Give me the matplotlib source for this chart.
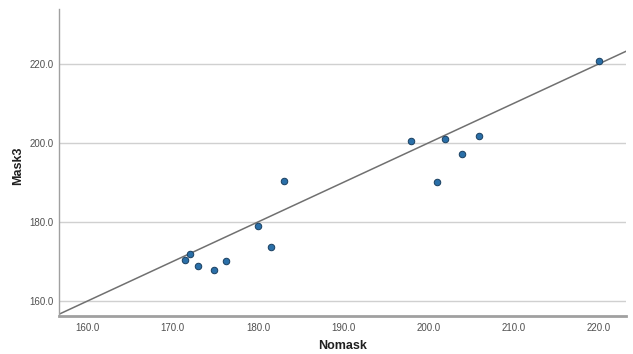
import matplotlib
matplotlib.use("Agg")
import matplotlib.pyplot as plt
import numpy as np

plt.rcParams["font.family"] = ["Liberation Sans", "DejaVu Sans"]

nomask = [171.4, 172.0, 173.0, 174.8, 176.3, 180.0, 181.5, 183.0,
          198.0, 201.0, 202.0, 204.0, 206.0, 220.0]
mask3 = [170.5, 171.9, 168.9, 167.9, 170.0, 179.0, 173.7, 190.4,
         200.6, 190.0, 201.1, 197.1, 201.8, 220.8]
x_ticks = [160.0, 170.0, 180.0, 190.0, 200.0, 210.0, 220.0]
y_ticks = [160.0, 180.0, 200.0, 220.0]

fig = plt.figure(figsize=(6.33, 3.54), dpi=100)
ax = fig.add_axes([0.0932, 0.1073, 0.8958, 0.8673])
ax.set_xlim(156.65, 223.2)
ax.set_ylim(156.2, 233.9)

ax.axline((160, 160), slope=1, color="#707070", lw=1.1, zorder=2)
ax.scatter(nomask, mask3, s=22, color="#2a6fa8", edgecolors="#1a3f60",
           linewidths=0.7, zorder=3)

ax.set_xticks(x_ticks)
ax.set_yticks(y_ticks)
ax.set_xticklabels([f"{v:.1f}" for v in x_ticks])
ax.set_yticklabels([f"{v:.1f}" for v in y_ticks])
ax.tick_params(axis="both", length=0, labelsize=7, colors="#505050")
ax.tick_params(axis="y", pad=4)
ax.tick_params(axis="x", pad=5)
ax.yaxis.grid(True, color="#d0d0d0", lw=1.0)
ax.set_axisbelow(True)
for s in ("top", "right"):
    ax.spines[s].set_visible(False)
ax.spines["left"].set_color("#a0a0a0")
ax.spines["left"].set_linewidth(1.0)
ax.spines["bottom"].set_color("#a0a0a0")
ax.spines["bottom"].set_linewidth(2.0)

fig.text(343 / 633, 1 - 346 / 354, "Nomask", fontsize=9, fontweight="bold",
         color="#202020", ha="center", va="center")
fig.text(18 / 633, 1 - 166 / 354, "Mask3", fontsize=9, fontweight="bold",
         color="#202020", ha="center", va="center", rotation=90)

fig.savefig("out.png", dpi=100)
